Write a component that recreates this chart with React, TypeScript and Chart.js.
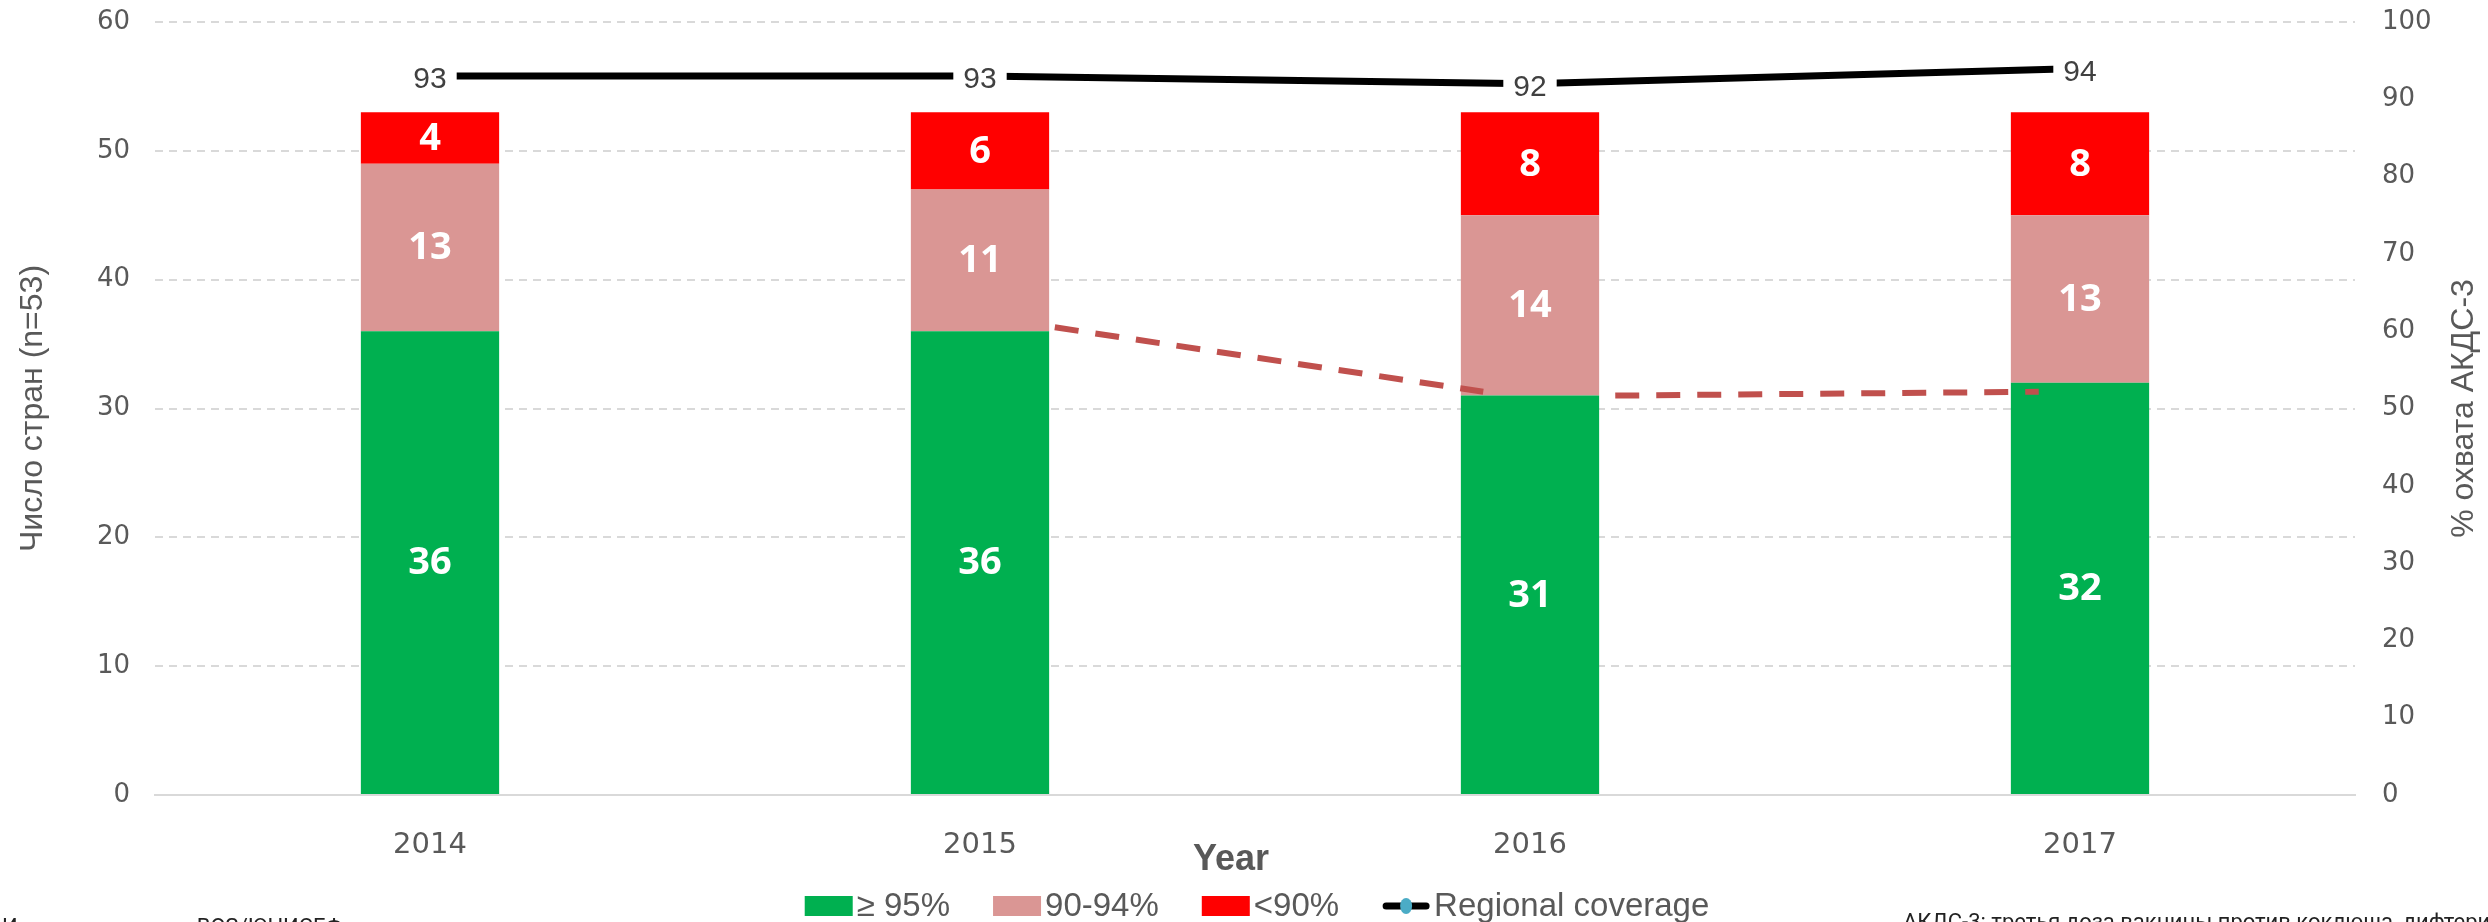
import React, { useEffect, useRef } from 'react';
import { Chart, registerables } from 'chart.js';

Chart.register(...registerables);

// ---- data ----
const years = ['2014', '2015', '2016', '2017'];
const countriesGe95 = [36, 36, 31, 32];
const countries90to94 = [13, 11, 14, 13];
const countriesLt90 = [4, 6, 8, 8];
const regionalCoverage = [93, 93, 92, 94];
// dashed red trend (x = fractional category index, y = number of countries)
const trendX = [1.136, 1.915, 2.03, 2.155, 2.925];
const trendY: (number | null)[] = [36.3, 31.3, null, 31.0, 31.3];

const legendLabels = ['≥ 95%', '90-94%', '<90%', 'Regional coverage'];
const leftAxisTitle = 'Число стран (n=53)';
const rightAxisTitle = '% охвата АКДС-3';
const xAxisTitle = 'Year';
const footLeft = 'Источник: данные ВОЗ/ЮНИСЕФ, оценки охвата';
const footRight = 'АКДС-3: третья доза вакцины против коклюша, дифтерии и столбняка';

const SANS = "'Liberation Sans', Arial, sans-serif";
const TICKFONT = "'DejaVu Sans', sans-serif";
const GREY = '#595959';

// target plot area (layout only)
const AREA = { left: 155, top: 22, right: 2355, bottom: 795 };

const extrasPlugin = {
  id: 'extras',
  afterDatasetsDraw(chart: any) {
    const ctx = chart.ctx;
    ctx.save();
    // bar labels
    for (let d = 0; d < 3; d++) {
      const meta = chart.getDatasetMeta(d);
      const data = chart.data.datasets[d].data;
      meta.data.forEach((el: any, i: number) => {
        const p = el.getProps(['x', 'y', 'base'], true);
        ctx.font = "bold 38px 'Open Sans', sans-serif";
        ctx.fillStyle = '#ffffff';
        ctx.textAlign = 'center';
        ctx.textBaseline = 'middle';
        ctx.fillText(String(data[i]), p.x, (p.y + p.base) / 2 + 1);
      });
    }
    // line labels
    const lm = chart.getDatasetMeta(3);
    const ld = chart.data.datasets[3].data;
    lm.data.forEach((el: any, i: number) => {
      const p = el.getProps(['x', 'y'], true);
      ctx.font = `30px ${SANS}`;
      const txt = String(ld[i]);
      const w = ctx.measureText(txt).width;
      ctx.fillStyle = '#ffffff';
      ctx.fillRect(p.x - w / 2 - 10, p.y - 16, w + 20, 36);
      ctx.fillStyle = '#404040';
      ctx.textAlign = 'center';
      ctx.textBaseline = 'middle';
      ctx.fillText(txt, p.x, p.y + 4);
    });
    ctx.restore();
  },
  afterDraw(chart: any) {
    const ctx = chart.ctx;
    const ys = chart.scales.y;
    ctx.save();
    // x axis title
    ctx.font = `bold 36px ${SANS}`;
    ctx.fillStyle = GREY;
    ctx.textAlign = 'center';
    ctx.textBaseline = 'middle';
    ctx.fillText(xAxisTitle, 1231, 860);
    // right axis title
    ctx.save();
    ctx.translate(2464, (ys.getPixelForValue(ys.max) + ys.getPixelForValue(ys.min)) / 2);
    ctx.rotate(-Math.PI / 2);
    ctx.font = `32px ${SANS}`;
    ctx.fillText(rightAxisTitle, 0, 0);
    ctx.restore();

    // legend
    ctx.font = `33px ${SANS}`;
    const boxW = 48, boxH = 20, gap = 4, spacing = 43;
    const ds = chart.data.datasets.slice(0, 4);
    const widths = ds.map((d: any) => boxW + gap + ctx.measureText(d.label).width);
    const total = widths.reduce((a: number, b: number) => a + b, 0) + spacing * (ds.length - 1);
    let x = 1257 - total / 2;
    const cy = 906;
    ds.forEach((d: any, i: number) => {
      if (i < 3) {
        ctx.fillStyle = d.backgroundColor;
        ctx.fillRect(x, cy - boxH / 2, boxW, boxH);
      } else {
        ctx.strokeStyle = '#000';
        ctx.lineWidth = 7;
        ctx.lineCap = 'round';
        ctx.beginPath();
        ctx.moveTo(x + 4, cy);
        ctx.lineTo(x + boxW - 4, cy);
        ctx.stroke();
        ctx.fillStyle = '#4BACC6';
        ctx.beginPath();
        ctx.ellipse(x + boxW / 2, cy, 6, 8, 0, 0, Math.PI * 2);
        ctx.fill();
      }
      ctx.fillStyle = GREY;
      ctx.textAlign = 'left';
      ctx.textBaseline = 'middle';
      ctx.fillText(d.label, x + boxW + gap, cy + 1);
      x += widths[i] + spacing;
    });

    // footer texts (mostly cut off by the image edge)
    ctx.font = "22px Roboto, sans-serif";
    ctx.fillStyle = '#222';
    ctx.textAlign = 'left';
    ctx.textBaseline = 'alphabetic';
    ctx.fillText(footLeft, 2, 934);
    ctx.fillText(footRight, 1903, 929);
    ctx.restore();
  },
};

export default function App() {
  const ref = useRef<HTMLCanvasElement>(null);
  useEffect(() => {
    if (!ref.current) return;
    const barCommon = { stack: 's', order: 3, yAxisID: 'y', xAxisID: 'x', grouped: false, barPercentage: 0.2514, categoryPercentage: 1, borderWidth: 0 };
    const padding = { top: 22, left: 0, right: 53, bottom: 127 };
    const chart = new Chart(ref.current, {
      type: 'bar',
      data: {
        labels: years,
        datasets: [
          { label: legendLabels[0], data: countriesGe95, backgroundColor: '#00B050', ...barCommon } as any,
          { label: legendLabels[1], data: countries90to94, backgroundColor: '#DA9694', ...barCommon } as any,
          { label: legendLabels[2], data: countriesLt90, backgroundColor: '#FF0000', ...barCommon } as any,
          {
            type: 'line', label: legendLabels[3], data: regionalCoverage, borderColor: '#000000',
            backgroundColor: '#000000', borderWidth: 7, pointRadius: 0, yAxisID: 'y1', xAxisID: 'x', order: 0,
          } as any,
          {
            type: 'line', label: 'trend', data: trendX.map((x, i) => ({ x, y: trendY[i] })),
            borderColor: '#C0504D', borderWidth: 6, borderDash: [24, 17], pointRadius: 0, spanGaps: false,
            yAxisID: 'y', xAxisID: 'xLin', order: 1, borderCapStyle: 'butt',
          } as any,
        ],
      },
      options: {
        animation: false,
        responsive: false,
        maintainAspectRatio: false,
        layout: { padding },
        scales: {
          x: {
            stacked: true,
            grid: { display: false, drawTicks: false },
            border: { display: true, color: '#D9D9D9', width: 2 },
            ticks: { color: GREY, font: { family: TICKFONT, size: 29 }, padding: 33 },
          },
          xLin: {
            type: 'linear', display: false, min: -0.5, max: 3.5, position: 'bottom', offset: false,
            grid: { offset: false },
          },
          y: {
            position: 'left', stacked: true, min: 0, max: 60,
            afterFit: (s: any) => { s.width = 155; s.paddingTop = 10; s.paddingBottom = 10; },
            ticks: { stepSize: 10, color: GREY, font: { family: TICKFONT, size: 26 }, padding: 25 },
            grid: { color: '#D9D9D9', lineWidth: 2, drawTicks: false },
            border: { display: false, dash: [8, 6] },
            title: { display: true, text: leftAxisTitle, color: GREY, font: { family: SANS, size: 32 }, padding: { top: 14, bottom: 40 } },
          },
          y1: {
            position: 'right', min: 0, max: 100,
            afterFit: (s: any) => { s.width = 80; s.paddingTop = 10; s.paddingBottom = 10; },
            ticks: { stepSize: 10, color: GREY, font: { family: TICKFONT, size: 26 }, padding: 27 },
            grid: { display: false, drawTicks: false },
            border: { display: false },
          },
        },
        plugins: {
          title: { display: false },
          tooltip: { enabled: false },
          legend: { display: false },
        },
      } as any,
      plugins: [extrasPlugin],
    });
    // nudge the layout padding so the plot (value range) lands where the reference has it
    for (let k = 0; k < 6; k++) {
      const ys = chart.scales.y as any;
      const xs = chart.scales.x as any;
      const top = ys.getPixelForValue(60);
      const bottom = ys.getPixelForValue(0);
      const dTop = AREA.top - top;
      const dBottom = bottom - AREA.bottom;
      const dLeft = AREA.left - xs.left;
      const dRight = xs.right - AREA.right;
      if (Math.abs(dTop) + Math.abs(dBottom) + Math.abs(dLeft) + Math.abs(dRight) < 0.5) break;
      padding.top += dTop;
      padding.bottom += dBottom;
      padding.left += dLeft;
      padding.right += dRight;
      (chart.config.options as any).layout.padding = { ...padding };
      chart.update();
    }
    return () => chart.destroy();
  }, []);
  return (
    <div style={{ position: 'fixed', left: 0, top: 0, width: 2488, height: 922, background: '#fff', overflow: 'hidden' }}>
      <canvas ref={ref} width={2488} height={922} style={{ display: 'block' }} />
    </div>
  );
}
